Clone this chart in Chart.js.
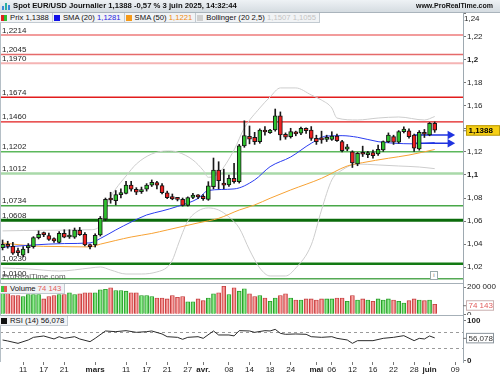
<!DOCTYPE html>
<html lang="fr">
<head>
<meta charset="utf-8">
<title>Spot EUR/USD Journalier</title>
<script src="https://cdn.jsdelivr.net/npm/chart.js@4.4.1/dist/chart.umd.min.js"></script>
<style>
html,body{margin:0;padding:0;background:#fff}
body{position:relative;width:500px;height:375px;overflow:hidden;font-family:"Liberation Sans",Arial,sans-serif;color:#111}
canvas{position:absolute;left:0}
#cP{top:13px}
#cV{top:283px}
#cR{top:315px}
#hdr{position:absolute;left:0;top:0;width:500px;height:12px;background:linear-gradient(#eef2f5,#d5dce1);border-bottom:1px solid #aab4bc;z-index:6}
#hdr .t{position:absolute;left:13px;top:0;font-weight:bold;font-size:7.7px;line-height:12px;white-space:nowrap}
#hdr .w{position:absolute;right:7px;top:0;font-weight:bold;font-size:7px;line-height:12px;white-space:nowrap}
#hdr .ico{position:absolute;left:2px;top:2px;width:8px;height:8px}
#hdr .ico i{position:absolute;bottom:0;width:2px;background:#3a8ad8}
.sep{position:absolute;left:0;width:463px;height:1px;background:#a6b0b8;z-index:5}
.lb{position:absolute;left:0;top:13px;width:1px;height:349px;background:#b5bfc6;z-index:5}
.leg{position:absolute;left:0;display:flex;z-index:5;font-size:7.7px;line-height:9px;white-space:nowrap}
.leg .b{display:flex;align-items:center;height:9px;padding:0 3px 0 1px;background:#f1f3f5;border-right:1px solid #c2cad1;border-bottom:1px solid #c2cad1}
.ic{display:inline-block;width:6px;height:6px;margin-right:3px}
.wm{position:absolute;left:2px;top:272px;font-size:8px;color:#444;opacity:.85;z-index:4}
.info{position:absolute;left:430px;top:271px;width:6px;height:7px;border:1px solid #9aa;font-size:6px;line-height:7px;text-align:center;color:#666;background:#fff;z-index:4}
</style>
</head>
<body>
<div id="hdr"><span class="ico"><i style="left:0;height:4px"></i><i style="left:3px;height:7px;background:#2bb0a0"></i><i style="left:6px;height:5px"></i></span><span class="t">Spot EUR/USD Journalier 1,1388 -0,57 % 3 juin 2025, 14:32:44</span><span class="w">www.ProRealTime.com</span></div>
<canvas id="cP" width="500" height="270"></canvas>
<canvas id="cV" width="500" height="32"></canvas>
<canvas id="cR" width="500" height="60"></canvas>
<div class="sep" style="top:283px"></div>
<div class="sep" style="top:315px"></div>
<div class="lb"></div>
<div class="leg" id="legP" style="top:13px"></div>
<div class="leg" id="legV" style="top:284px"></div>
<div class="leg" id="legR" style="top:316px"></div>
<div class="wm">ProRealTime.com</div>
<div class="info">i</div>
<script>
// ---------- categories (trading days) ----------
const dates = ["05.02","06.02","07.02","10.02","11.02","12.02","13.02","14.02","17.02","18.02","19.02","20.02","21.02","24.02","25.02","26.02","27.02","28.02",
"03.03","04.03","05.03","06.03","07.03","10.03","11.03","12.03","13.03","14.03","17.03","18.03","19.03","20.03","21.03","24.03","25.03","26.03","27.03","28.03","31.03",
"01.04","02.04","03.04","04.04","07.04","08.04","09.04","10.04","11.04","14.04","15.04","16.04","17.04","18.04","21.04","22.04","23.04","24.04","25.04","28.04","29.04","30.04",
"01.05","02.05","05.05","06.05","07.05","08.05","09.05","12.05","13.05","14.05","15.05","16.05","19.05","20.05","21.05","22.05","23.05","26.05","27.05","28.05","29.05","30.05",
"02.06","03.06","04.06","05.06","06.06","09.06","10.06"];
const tickLabels = {"11.02":"11","17.02":"17","21.02":"21","03.03":"mars","11.03":"11","17.03":"17","21.03":"21","27.03":"27","01.04":"avr.","08.04":"08","14.04":"14","18.04":"18","24.04":"24","01.05":"mai","06.05":"06","12.05":"12","16.05":"16","22.05":"22","28.05":"28","02.06":"juin","09.06":"09"};
const monthNames = ["mars","avr.","mai","juin"];

// ---------- OHLC ----------
const opens = [1.0369,1.0399,1.0380,1.0343,1.0304,1.0370,1.0378,1.0456,1.0488,1.0474,1.0448,1.0416,1.0494,1.0462,1.0460,1.0520,1.0486,1.0390,
1.0393,1.0480,1.0616,1.0789,1.0777,1.0830,1.0841,1.0913,1.0876,1.0855,1.0876,1.0911,1.0933,1.0907,1.0846,1.0812,1.0794,1.0789,1.0737,1.0806,1.0815,
1.0815,1.0789,1.0899,1.1043,1.0930,1.0913,1.0971,1.0942,1.1252,1.1335,1.1327,1.1289,1.1390,1.1367,1.1390,1.1512,1.1353,1.1332,1.1370,1.1362,1.1405,1.1390,
1.1318,1.1318,1.1309,1.1309,1.1338,1.1289,1.1223,1.1200,1.1095,1.1185,1.1176,1.1195,1.1182,1.1217,1.1289,1.1332,1.1284,1.1376,1.1384,1.1347,1.1225,1.1370,
1.1347,1.1448];
const highs = [1.0436,1.0425,1.0415,1.0365,1.0378,1.0405,1.0465,1.0515,1.0505,1.0495,1.0455,1.0510,1.0525,1.0525,1.0540,1.0545,1.0500,1.0400,
1.0490,1.0640,1.0800,1.0850,1.0865,1.0880,1.0945,1.0945,1.0890,1.0895,1.0925,1.0957,1.0945,1.0925,1.0860,1.0835,1.0805,1.0800,1.0810,1.0840,1.0830,
1.0830,1.0942,1.1147,1.1115,1.1050,1.1000,1.1100,1.1265,1.1470,1.1425,1.1370,1.1400,1.1420,1.1395,1.1572,1.1547,1.1365,1.1405,1.1380,1.1415,1.1410,1.1420,
1.1345,1.1380,1.1345,1.1375,1.1355,1.1300,1.1265,1.1210,1.1195,1.1250,1.1205,1.1215,1.1260,1.1295,1.1365,1.1345,1.1385,1.1418,1.1400,1.1355,1.1385,1.1395,
1.1455,1.1460];
const lows = [1.0350,1.0365,1.0310,1.0300,1.0290,1.0325,1.0365,1.0445,1.0465,1.0432,1.0415,1.0410,1.0455,1.0450,1.0450,1.0475,1.0385,1.0358,
1.0375,1.0470,1.0605,1.0755,1.0740,1.0800,1.0835,1.0860,1.0830,1.0840,1.0860,1.0900,1.0880,1.0835,1.0795,1.0785,1.0775,1.0730,1.0730,1.0795,1.0795,
1.0780,1.0780,1.0880,1.0880,1.0880,1.0900,1.0930,1.0930,1.1240,1.1270,1.1265,1.1275,1.1345,1.1360,1.1380,1.1303,1.1310,1.1320,1.1340,1.1350,1.1360,1.1300,
1.1265,1.1275,1.1290,1.1300,1.1290,1.1200,1.1210,1.1065,1.1080,1.1160,1.1150,1.1145,1.1170,1.1205,1.1280,1.1265,1.1275,1.1365,1.1320,1.1205,1.1215,1.1325,
1.1340,1.1370];
const closes = [1.0399,1.0380,1.0321,1.0326,1.0358,1.0384,1.0456,1.0486,1.0482,1.0442,1.0428,1.0494,1.0460,1.0478,1.0523,1.0482,1.0393,1.0378,
1.0477,1.0625,1.0789,1.0783,1.0829,1.0834,1.0913,1.0876,1.0850,1.0862,1.0913,1.0937,1.0911,1.0846,1.0803,1.0792,1.0789,1.0737,1.0805,1.0825,1.0810,
1.0795,1.0905,1.1043,1.0951,1.0912,1.0971,1.0942,1.1252,1.1341,1.1310,1.1289,1.1390,1.1373,1.1390,1.1512,1.1347,1.1327,1.1376,1.1356,1.1405,1.1384,1.1318,
1.1289,1.1305,1.1324,1.1338,1.1298,1.1211,1.1245,1.1104,1.1188,1.1180,1.1182,1.1168,1.1223,1.1289,1.1347,1.1284,1.1376,1.1399,1.1332,1.1232,1.1370,1.1353,
1.1448,1.1388];
const volumes = [165000,160000,138000,138000,130000,145000,145000,145000,113000,130000,
138000,145000,145000,158000,145000,150000,158000,158000,158000,180000,
183000,195000,175000,175000,170000,158000,158000,138000,138000,130000,
120000,120000,113000,138000,125000,130000,92000,92000,113000,100000,
120000,150000,158000,205000,145000,195000,170000,188000,150000,130000,
138000,120000,95000,120000,138000,150000,120000,105000,105000,113000,
113000,105000,113000,113000,113000,120000,120000,95000,138000,105000,
113000,105000,95000,113000,105000,113000,105000,95000,83000,100000,
113000,105000,100000,105000,74143];

// ---------- indicators: [day index, value] ----------
const sma20Pts = [[0,1.0373],[6,1.0393],[12,1.0405],[17,1.0411],[19,1.0449],[22,1.0523],[25,1.0592],[28,1.0653],[31,1.0688],[34,1.0727],[38,1.0796],[40,1.0866],[45,1.0879],[49,1.0957],[52,1.1072],[56,1.1156],[60,1.1275],[63,1.1338],[66,1.1341],[69,1.1327],[73,1.1289],[76,1.1276],[80,1.1270],[84,1.1281]];
const sma50Pts = [[0,1.0410],[6,1.0384],[10,1.0380],[17,1.0376],[19,1.0400],[22,1.0432],[25,1.0462],[29,1.0493],[32,1.0523],[38,1.0584],[42,1.0624],[46,1.0696],[49,1.0740],[52,1.0798],[56,1.0870],[62,1.0971],[67,1.1078],[70,1.1107],[75,1.1145],[79,1.1173],[84,1.1221]];
const bbUpPts = [[0,1.0515],[8,1.0520],[17,1.0525],[19,1.0560],[20,1.0714],[21,1.0809],[22,1.0879],[24,1.0991],[26,1.1095],[29,1.1182],[32,1.1208],[34,1.1199],[37,1.1130],[39,1.1040],[40,1.0980],[42,1.1015],[45,1.1217],[47,1.1408],[50,1.1581],[52,1.1677],[54,1.1755],[57,1.1755],[60,1.1694],[62,1.1650],[64,1.1581],[65,1.1494],[69,1.1477],[73,1.1494],[77,1.1503],[82,1.1477],[84,1.1507]];
const bbLoPts = [[0,1.0193],[5,1.0185],[11,1.0167],[17,1.0193],[19,1.0202],[21,1.0176],[24,1.0141],[27,1.0141],[30,1.0159],[32,1.0200],[33,1.0260],[34,1.0380],[35,1.0500],[36,1.0600],[38,1.0688],[40,1.0714],[42,1.0696],[44,1.0636],[46,1.0540],[48,1.0350],[50,1.0193],[52,1.0124],[55,1.0124],[57,1.0193],[60,1.0393],[62,1.0696],[64,1.0957],[66,1.1043],[69,1.1095],[73,1.1087],[77,1.1078],[81,1.1069],[84,1.1055]];
const rsiPts = [[0,50.8],[1,48.3],[3,42.4],[5,50.8],[6,57.4],[8,60.8],[10,53.3],[11,59.0],[12,54.9],[14,59.0],[15,53.3],[17,46.6],[18,54.9],[20,73.3],[22,71.6],[24,74.1],[26,69.9],[28,71.6],[29,73.3],[31,65.8],[32,59.0],[34,57.4],[35,52.4],[36,57.4],[38,59.0],[39,54.9],[41,73.3],[42,63.3],[44,63.3],[45,61.0],[46,74.1],[48,73.3],[49,69.9],[51,74.1],[52,73.3],[53,77.4],[54,67.4],[55,65.0],[57,65.8],[59,65.0],[60,59.0],[62,57.4],[64,59.0],[65,54.9],[67,50.8],[68,42.4],[69,49.1],[72,49.1],[74,54.9],[76,57.4],[78,61.6],[80,49.1],[81,54.9],[82,53.3],[83,60.8],[84,56.078]];

// ---------- horizontal levels & drawn arrows ----------
const levelValues = [1.2214,1.2045,1.1970,1.1674,1.1460,1.1202,1.1012,1.0734,1.0608,1.0230,1.0100];
const levelLabels = ["1,2214","1,2045","1,1970","1,1674","1,1460","1,1202","1,1012","1,0734","1,0608","1,0230","1,0100"];
const arrowValues = [1.1347, 1.1275];
const arrowSpan = ["28.05","06.06"];

// ---------- axis ticks ----------
const priceTicks = [1.02,1.04,1.06,1.08,1.10,1.12,1.14,1.16,1.18,1.20,1.22,1.24];
const volTicks = [0,100000,200000];
const rsiTicks = [0,100];
const rsiBands = [70,30];

// ---------- styles (kept apart from data) ----------
const levelColors = ["#f29c9c","#e56a6a","#f5b4b4","#e21c1c","#e21c1c","#5cb85c","#a9d9a9","#48a848","#0b6b0b","#137a13","#55aa55"];
const levelWidths = [2,1.5,2,1.3,1.3,1.5,2.5,1.5,3,2.5,1.5];
const FONT = '"Liberation Sans", Arial, sans-serif';
Chart.defaults.font.family = FONT;
Chart.defaults.font.size = 8;
Chart.defaults.color = '#222';
Chart.defaults.animation = false;

const fmt = (v, d) => v.toFixed(d).replace('.', ',');
const fmtThousands = v => String(Math.round(v)).replace(/\B(?=(\d{3})+(?!\d))/g, ' ');
const pts = arr => arr.map(([i, v]) => ({x: dates[i], y: v}));
const up = closes.map((c, i) => c >= opens[i]);
const lastIdx = closes.length - 1;
const last = a => a[a.length - 1][1];

// legends
document.getElementById('legP').innerHTML =
  '<span class="b"><i class="ic" style="background:linear-gradient(90deg,#e02020 50%,#2fbf2f 50%)"></i>Prix&nbsp;' + fmt(closes[lastIdx],4) + '</span>' +
  '<span class="b"><i class="ic" style="background:#1010e8"></i>SMA (20)&nbsp;<span style="color:#2424e0">' + fmt(last(sma20Pts),4) + '</span></span>' +
  '<span class="b"><i class="ic" style="background:#f59a1a"></i>SMA (50)&nbsp;<span style="color:#f08a10">' + fmt(last(sma50Pts),4) + '</span></span>' +
  '<span class="b"><i class="ic" style="background:#cfcfcf"></i>Bollinger (20 2,5)&nbsp;<span style="color:#c4c4c4">' + fmt(last(bbUpPts),4) + ' ' + fmt(last(bbLoPts),4) + '</span></span>';
document.getElementById('legV').innerHTML =
  '<span class="b"><i class="ic" style="background:linear-gradient(90deg,#3fc43f 50%,#e65a5a 50%)"></i>Volume&nbsp;<span style="color:#e25c5c">' + fmtThousands(volumes[lastIdx]) + '</span></span>';
document.getElementById('legR').innerHTML =
  '<span class="b"><i class="ic" style="background:#111"></i>RSI (14)&nbsp;' + fmt(last(rsiPts),3) + '</span>';

const hiddenX = { type: 'category', offset: true, display: false };
function yRight(extra) {
  return Object.assign({
    type: 'linear', position: 'right',
    afterFit: s => { s.width = 37; s.paddingTop = 0; s.paddingBottom = 0; },
    grid: { drawOnChartArea: false, drawTicks: true, tickLength: 3, color: '#777' },
    border: { display: true, color: '#9ea9b1' }
  }, extra);
}
function valueBox(ctx, x, y, w, text, bg, border, color, bold) {
  ctx.save();
  ctx.strokeStyle = '#777'; ctx.lineWidth = 1;
  ctx.beginPath(); ctx.moveTo(x - 3, y + 0.5); ctx.lineTo(x, y + 0.5); ctx.stroke();
  ctx.fillStyle = bg; ctx.fillRect(x + 0.5, y - 5, w, 10);
  ctx.strokeStyle = border; ctx.strokeRect(x + 0.5, y - 4.5, w, 9.5);
  ctx.fillStyle = color; ctx.font = (bold ? 'bold ' : '') + '8px ' + FONT;
  ctx.textBaseline = 'middle'; ctx.textAlign = 'left';
  ctx.fillText(text, x + 2.5, y + 0.5);
  ctx.restore();
}

// ---------- price panel ----------
const pricePlugin = {
  id: 'pricePlugin',
  beforeDatasetsDraw(chart) {
    const {ctx, chartArea: {left, right}, scales: {y}} = chart;
    ctx.save();
    levelValues.forEach((v, i) => {
      const py = y.getPixelForValue(v);
      ctx.strokeStyle = levelColors[i]; ctx.lineWidth = levelWidths[i];
      ctx.beginPath(); ctx.moveTo(left, py); ctx.lineTo(right, py); ctx.stroke();
      ctx.fillStyle = '#1e1e1e'; ctx.font = '8px ' + FONT; ctx.textBaseline = 'alphabetic';
      ctx.fillText(levelLabels[i], left + 2, py - 2.5);
    });
    ctx.restore();
  },
  afterDraw(chart) {
    const {ctx, chartArea: {top, right}, scales: {y}} = chart;
    const topTick = priceTicks[priceTicks.length - 1];
    ctx.save();
    ctx.fillStyle = '#222'; ctx.font = '8px ' + FONT; ctx.textBaseline = 'middle';
    ctx.fillText(fmt(topTick, 2), right + 1, Math.max(y.getPixelForValue(topTick), top + 6));
    ctx.restore();
    valueBox(ctx, right + 3, y.getPixelForValue(closes[lastIdx]), 33, fmt(closes[lastIdx], 4), '#f6cf14', '#b8980a', '#000', true);
  }
};
const lineDs = (data, color, order) => ({ type: 'line', data: pts(data), borderColor: color, borderWidth: 1, pointRadius: 0, fill: false, cubicInterpolationMode: 'monotone', order });
const arrowDs = v => ({ type: 'line', data: arrowSpan.map(d => ({x: d, y: v})), borderColor: '#1f33e0', backgroundColor: '#1f33e0',
  borderWidth: 1.6, pointRadius: [0, 5], pointStyle: 'triangle', pointRotation: 90, pointBackgroundColor: '#1f33e0', pointBorderColor: '#1f33e0', pointBorderWidth: 0, order: 3 });

new Chart(document.getElementById('cP'), {
  type: 'bar',
  data: {
    labels: dates,
    datasets: [
      { type: 'bar', data: opens.map((o, i) => [o, closes[i]]), backgroundColor: up.map(u => u ? '#2ec22e' : '#ee2121'),
        borderColor: '#161616', borderWidth: 1, borderSkipped: false, barThickness: 4, minBarLength: 2, grouped: false, order: 1 },
      { type: 'bar', data: lows.map((l, i) => [l, highs[i]]), backgroundColor: '#1a1a1a', borderWidth: 0, barThickness: 1, grouped: false, order: 2 },
      arrowDs(arrowValues[0]), arrowDs(arrowValues[1]),
      lineDs(sma20Pts, '#2a3cf0', 4),
      lineDs(sma50Pts, '#f7a234', 5),
      lineDs(bbUpPts, '#cdcdcd', 6),
      lineDs(bbLoPts, '#cdcdcd', 7)
    ]
  },
  options: {
    responsive: false, animation: false,
    layout: { padding: 0, autoPadding: false },
    plugins: { legend: { display: false }, tooltip: { enabled: false } },
    scales: {
      x: hiddenX,
      y: yRight({
        min: 1.0063, max: 1.2405,
        afterBuildTicks: s => { s.ticks = priceTicks.map(v => ({value: v})); },
        ticks: {
          padding: 1, color: '#222',
          callback: v => v > 1.239 ? '' : String(Math.round(v * 100) / 100).replace('.', ','),
          font: c => ({ size: 8, weight: (c.tick && Math.abs(c.tick.value * 10 - Math.round(c.tick.value * 10)) < 1e-6) ? 'bold' : 'normal' })
        }
      })
    }
  },
  plugins: [pricePlugin]
});

// ---------- volume panel ----------
const volPlugin = {
  id: 'volPlugin',
  afterDraw(chart) {
    const {ctx, chartArea: {right}, scales: {y}} = chart;
    valueBox(ctx, right + 3, y.getPixelForValue(volumes[lastIdx]) + 1, 27, fmtThousands(volumes[lastIdx]), '#fff', '#c9b0b0', '#e25c5c', false);
  }
};
new Chart(document.getElementById('cV'), {
  type: 'bar',
  data: {
    labels: dates,
    datasets: [{
      data: volumes,
      backgroundColor: c => {
        const u = up[c.dataIndex];
        const xs = c.chart.scales && c.chart.scales.x;
        if (c.type !== 'data' || !xs || !c.chart.chartArea) return u ? '#49c849' : '#ea6262';
        const px = xs.getPixelForValue(c.dataIndex);
        const g = c.chart.ctx.createLinearGradient(px - 2, 0, px + 2, 0);
        g.addColorStop(0, u ? '#2cae2c' : '#dc4646');
        g.addColorStop(0.5, u ? '#98ee98' : '#f8aeae');
        g.addColorStop(1, u ? '#2cae2c' : '#dc4646');
        return g;
      },
      borderColor: up.map(u => u ? '#259a25' : '#c23c3c'),
      borderWidth: 0.8, borderSkipped: 'start', barThickness: 4
    }]
  },
  options: {
    responsive: false, animation: false,
    layout: { padding: 0, autoPadding: false },
    plugins: { legend: { display: false }, tooltip: { enabled: false } },
    scales: {
      x: hiddenX,
      y: yRight({
        min: -5000, max: 230000,
        afterBuildTicks: s => { s.ticks = volTicks.map(v => ({value: v})); },
        ticks: { padding: 1, color: '#222', font: { size: 8 }, callback: v => fmtThousands(v) }
      })
    }
  },
  plugins: [volPlugin]
});

// ---------- RSI panel ----------
const rsiPlugin = {
  id: 'rsiPlugin',
  beforeDatasetsDraw(chart) {
    const {ctx, chartArea: {left, right}, scales: {y}} = chart;
    ctx.save();
    ctx.strokeStyle = '#9a9a9a'; ctx.lineWidth = 1; ctx.setLineDash([3, 3]);
    rsiBands.forEach(v => {
      const py = Math.round(y.getPixelForValue(v)) + 0.5;
      ctx.beginPath(); ctx.moveTo(left, py); ctx.lineTo(right, py); ctx.stroke();
    });
    ctx.restore();
  },
  afterDraw(chart) {
    const {ctx, chartArea: {right}, scales: {y}} = chart;
    valueBox(ctx, right + 3, y.getPixelForValue(last(rsiPts)), 27, fmt(last(rsiPts), 3), '#fff', '#8a949c', '#333', false);
  }
};
new Chart(document.getElementById('cR'), {
  type: 'line',
  data: {
    labels: dates,
    datasets: [{ data: pts(rsiPts), borderColor: '#2b2b2b', borderWidth: 1, pointRadius: 0, tension: 0, fill: false }]
  },
  options: {
    responsive: false, animation: false,
    layout: { padding: 0, autoPadding: false },
    plugins: { legend: { display: false }, tooltip: { enabled: false } },
    scales: {
      x: {
        type: 'category', offset: true,
        afterFit: s => { s.height = 13; s.paddingLeft = 0; s.paddingRight = 0; },
        grid: { display: true, drawOnChartArea: false, drawTicks: true, tickLength: 3, color: '#777', offset: false },
        border: { display: false },
        ticks: {
          autoSkip: false, maxRotation: 0, minRotation: 0, padding: 0, color: '#222',
          callback: v => (tickLabels[dates[v]] !== undefined ? tickLabels[dates[v]] : null),
          font: c => ({ size: 8, weight: (c.tick && monthNames.includes(c.tick.label)) ? 'bold' : 'normal' })
        }
      },
      y: yRight({
        min: -4.25, max: 113.25,
        afterBuildTicks: s => { s.ticks = rsiTicks.map(v => ({value: v})); },
        ticks: { padding: 1, color: '#222', font: { size: 8, weight: 'bold' }, callback: v => String(v) }
      })
    }
  },
  plugins: [rsiPlugin]
});
</script>
</body>
</html>
